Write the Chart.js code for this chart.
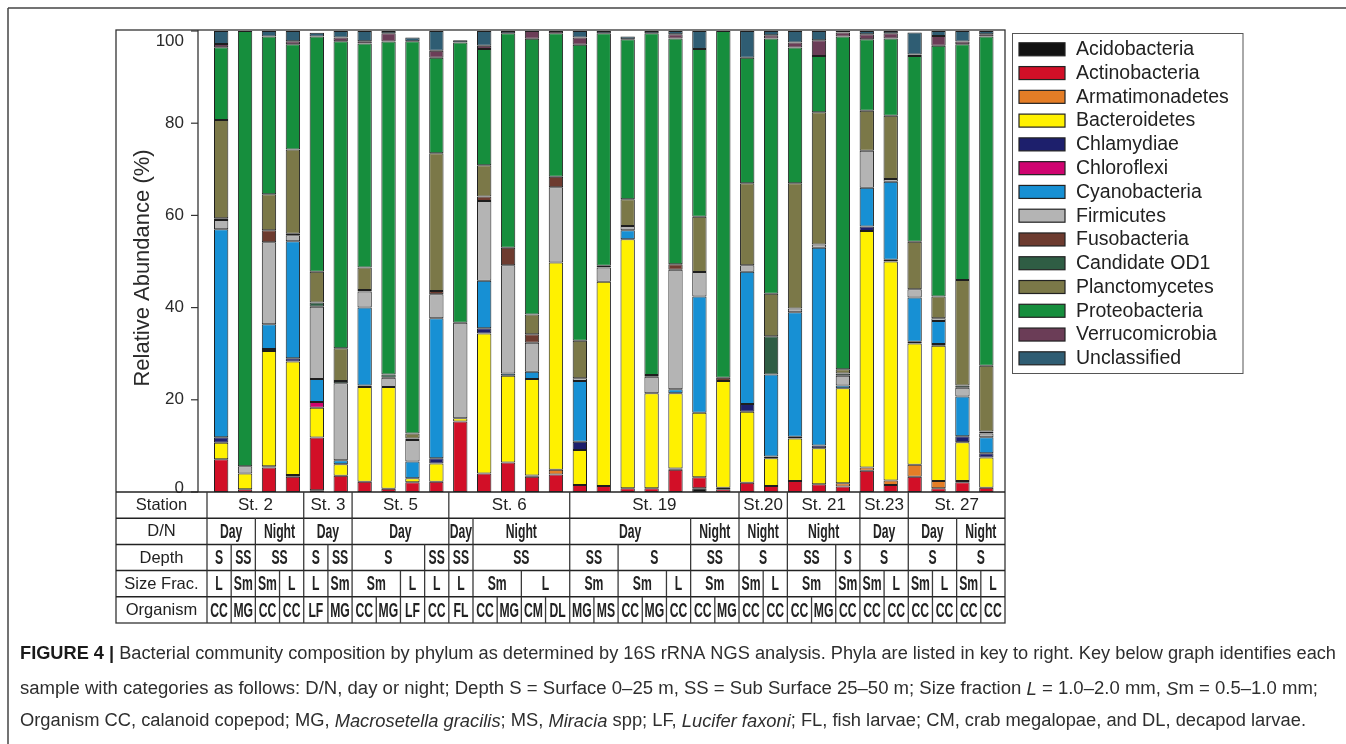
<!DOCTYPE html>
<html>
<head>
<meta charset="utf-8">
<title>Bacterial community composition by phylum</title>
<script src="https://cdn.jsdelivr.net/npm/chart.js@4.4.1/dist/chart.umd.min.js"></script>
<style>
  html, body { margin: 0; padding: 0; background: #fff; overflow: hidden; }
  canvas { display: block; }
</style>
</head>
<body>
<canvas id="chart" width="1346" height="744"></canvas>
<script>
// ---- Phyla (stacked bottom to top) ----
const phyla = ['Acidobacteria', 'Actinobacteria', 'Armatimonadetes', 'Bacteroidetes', 'Chlamydiae',
  'Chloroflexi', 'Cyanobacteria', 'Firmicutes', 'Fusobacteria', 'Candidate OD1',
  'Planctomycetes', 'Proteobacteria', 'Verrucomicrobia', 'Unclassified'];

// ---- Relative abundance (%) per sample, 33 samples ----
const acidobacteria   = [0, 0, 0, 0, 0.4, 0, 0, 0, 0, 0, 0, 0, 0, 0, 0, 0, 0, 0, 0, 0, 0.8, 0, 0, 0, 0, 0, 0, 0, 0, 0, 0, 0, 0];
const actinobacteria  = [7.1, 0.6, 5.3, 3.3, 11.4, 3.5, 2.2, 0.7, 2.1, 2.2, 15.3, 4.0, 6.4, 3.3, 3.8, 1.5, 1.3, 0.8, 0.8, 4.8, 2.4, 0.6, 2.0, 1.3, 2.4, 1.7, 1.2, 4.6, 1.5, 3.3, 0.8, 2.1, 0.9];
const armatimonadetes = [0, 0, 0.3, 0.4, 0, 0, 0, 0, 0, 0, 0, 0, 0, 0.3, 1.0, 0, 0, 0, 0, 0.3, 0, 0.3, 0, 0, 0, 0, 0.7, 0.7, 1.0, 2.6, 1.6, 0.3, 0];
const bacteroidetes   = [3.6, 3.4, 25.0, 24.6, 6.5, 2.5, 20.6, 22.1, 0.9, 4.0, 0.7, 30.4, 18.8, 20.9, 45.0, 7.6, 44.3, 54.0, 20.6, 16.3, 14.0, 23.2, 15.4, 6.0, 9.2, 7.8, 20.6, 51.3, 47.5, 26.3, 29.3, 8.4, 6.6];
const chlamydiae      = [1.2, 0, 0.4, 0.7, 0, 0, 0.3, 0, 0, 1.1, 0, 1.1, 0, 0, 0, 1.8, 0, 0, 0, 0, 0, 0, 1.7, 0.4, 0.4, 0.6, 0, 1.0, 0.4, 0.4, 0.4, 1.3, 0.9];
const chloroflexi     = [0, 0, 0, 0, 1.2, 0, 0, 0, 0, 0, 0, 0, 0, 0, 0, 0, 0, 0, 0, 0, 0, 0, 0, 0, 0, 0, 0, 0, 0, 0, 0, 0, 0];
const cyanobacteria   = [45.1, 0, 5.4, 25.4, 5.0, 0.9, 16.9, 0, 3.6, 30.4, 0, 10.3, 0.5, 1.6, 0, 13.2, 0, 2.0, 0, 0.9, 25.2, 0, 28.7, 17.8, 27.0, 42.9, 0.6, 8.4, 16.9, 9.6, 5.0, 8.6, 3.5];
const firmicutes      = [2.0, 1.6, 17.8, 1.3, 15.7, 16.7, 3.5, 2.0, 4.7, 5.2, 20.7, 17.3, 23.5, 6.3, 16.3, 0.6, 3.1, 0.9, 3.6, 25.9, 5.3, 0, 1.4, 0, 0.8, 0.7, 2.1, 8.0, 0.6, 1.8, 0.6, 1.9, 0.8];
const fusobacteria    = [0.4, 0, 2.6, 0.3, 0, 0, 0.3, 0, 0, 0.7, 0, 1.0, 3.8, 1.8, 2.3, 0, 0.4, 0, 0, 1.2, 0, 0.7, 0, 0, 0, 0, 0, 0, 0, 0, 0, 0, 0];
const candidateOD1    = [0, 0, 0, 0, 0.9, 0.5, 0, 0.7, 0.3, 0, 0, 0, 0, 0, 0, 0, 0, 0, 0.4, 0, 0, 0, 0, 8.3, 0, 0, 0.5, 0, 0, 0, 0, 0.5, 0.4];
const planctomycetes  = [21.3, 0, 7.8, 18.3, 6.7, 7.1, 4.9, 0, 1.1, 29.9, 0, 6.8, 0, 4.3, 0, 8.1, 0, 5.8, 0, 0, 12.0, 0, 17.8, 9.2, 27.2, 28.7, 0.9, 8.7, 13.7, 10.3, 4.7, 22.9, 14.3];
const proteobacteria  = [15.8, 94.4, 34.2, 22.8, 51.0, 66.6, 48.6, 72.2, 85.1, 20.7, 60.8, 25.2, 46.5, 59.8, 31.1, 64.2, 50.4, 34.7, 74.1, 49.0, 36.4, 75.2, 27.2, 55.4, 29.4, 12.2, 72.2, 15.5, 16.8, 40.3, 54.4, 51.1, 71.4];
const verrucomicrobia = [0.7, 0, 0, 0.7, 0, 0.8, 0.5, 1.8, 0, 1.5, 0, 0.7, 0, 1.7, 0.5, 1.6, 0, 0, 0, 0.9, 0, 0, 0, 0.7, 1.1, 3.4, 0.9, 1.1, 1.1, 0.3, 2.1, 0.6, 0.5];
const unclassified    = [2.8, 0, 1.2, 2.2, 0.8, 1.4, 2.2, 0.5, 0.8, 4.3, 0.5, 3.2, 0.5, 0, 0, 1.4, 0.5, 0.6, 0.5, 0.7, 3.9, 0, 5.8, 0.9, 2.5, 2.0, 0.3, 0.7, 0.5, 4.8, 1.1, 2.3, 0.7];

// ---- Sample key (label, number of samples spanned) ----
const organisms = ['CC', 'MG', 'CC', 'CC', 'LF', 'MG', 'CC', 'MG', 'LF', 'CC', 'FL', 'CC', 'MG', 'CM', 'DL',
  'MG', 'MS', 'CC', 'MG', 'CC', 'CC', 'MG', 'CC', 'CC', 'CC', 'MG', 'CC', 'CC', 'CC', 'CC', 'CC', 'CC', 'CC'];
const stations = [['St. 2', 4], ['St. 3', 2], ['St. 5', 4], ['St. 6', 5], ['St. 19', 7], ['St.20', 2], ['St. 21', 3], ['St.23', 2], ['St. 27', 4]];
const dayNight = [['Day', 2], ['Night', 2], ['Day', 2], ['Day', 4], ['Day', 1], ['Night', 4], ['Day', 5], ['Night', 2],
  ['Night', 2], ['Night', 3], ['Day', 2], ['Day', 2], ['Night', 2]];
const depths = [['S', 1], ['SS', 1], ['SS', 2], ['S', 1], ['SS', 1], ['S', 3], ['SS', 1], ['SS', 1], ['SS', 4],
  ['SS', 2], ['S', 3], ['SS', 2], ['S', 2], ['SS', 2], ['S', 1], ['S', 2], ['S', 2], ['S', 2]];
const sizeFractions = [['L', 1], ['Sm', 1], ['Sm', 1], ['L', 1], ['L', 1], ['Sm', 1], ['Sm', 2], ['L', 1], ['L', 1],
  ['L', 1], ['Sm', 2], ['L', 2], ['Sm', 2], ['Sm', 2], ['L', 1], ['Sm', 2], ['Sm', 1], ['L', 1], ['Sm', 2], ['Sm', 1],
  ['Sm', 1], ['L', 1], ['Sm', 1], ['L', 1], ['Sm', 1], ['L', 1]];
const rowHeaders = ['Station', 'D/N', 'Depth', 'Size Frac.', 'Organism'];
const yTicks = [0, 20, 40, 60, 80, 100];
const yTitle = 'Relative Abundance (%)';

const captionLines = [
  [['b', 'FIGURE 4 |'], ['r', ' Bacterial community composition by phylum as determined by 16S rRNA NGS analysis. Phyla are listed in key to right. Key below graph identifies each']],
  [['r', 'sample with categories as follows: D/N, day or night; Depth S = Surface 0\u201325 m, SS = Sub Surface 25\u201350 m; Size fraction '], ['i', 'L'], ['r', ' = 1.0\u20132.0 mm, '], ['i', 'S'], ['r', 'm = 0.5\u20131.0 mm;']],
  [['r', 'Organism CC, calanoid copepod; MG, '], ['i', 'Macrosetella gracilis'], ['r', '; MS, '], ['i', 'Miracia'], ['r', ' spp; LF, '], ['i', 'Lucifer faxoni'], ['r', '; FL, fish larvae; CM, crab megalopae, and DL, decapod larvae.']]
];

// ---- Styling ----
const phylumColors = ['#121212', '#d20f27', '#e47d26', '#fff100', '#1d1f6c', '#cf0470', '#1790d4', '#b4b4b4',
  '#6d3b2f', '#2f5d44', '#7b7848', '#168e3d', '#6b3d57', '#2f5d73'];
const seriesValues = [acidobacteria, actinobacteria, armatimonadetes, bacteroidetes, chlamydiae, chloroflexi,
  cyanobacteria, firmicutes, fusobacteria, candidateOD1, planctomycetes, proteobacteria, verrucomicrobia, unclassified];

const FRAME = { left: 116, top: 30, right: 1005, bottom: 623 };
const PLOT_LEFT = 198;
const HEADER_RIGHT = 207;
const LEGEND = { left: 1012.5, top: 33.5, right: 1243, bottom: 373.5, swX: 1019, swW: 46, swH: 13, textX: 1076, firstY: 49.3, step: 23.77 };
const SANS = 'Arial, "Liberation Sans", Helvetica, sans-serif';
const INK = '#222';
const CONDENSE = 0.58;   // horizontal squeeze for the compressed key labels

// Per-sample station names for category labels
const stationOfSample = stations.flatMap(([name, span]) => Array(span).fill(name));
const categories = organisms.map((o, i) => `${stationOfSample[i]} ${o} ${i + 1}`);

const datasets = phyla.map((name, k) => ({
  label: name,
  data: seriesValues[k].map(v => (v > 0 ? v : null)),
  backgroundColor: phylumColors[k],
  borderColor: '#1e1e1e',
  borderWidth: 1,
  borderSkipped: false
}));

function line(ctx, x1, y1, x2, y2) {
  ctx.beginPath(); ctx.moveTo(x1, y1); ctx.lineTo(x2, y2); ctx.stroke();
}
function text(ctx, s, x, y, font, align) {
  ctx.font = font; ctx.textAlign = align || 'center'; ctx.textBaseline = 'middle';
  ctx.fillText(s, x, y);
}
function condensedText(ctx, s, cx, cy) {
  ctx.save();
  ctx.translate(cx, cy);
  ctx.scale(CONDENSE, 1);
  text(ctx, s, 0, 0, 'bold 21px ' + SANS, 'center');
  ctx.restore();
}

const figureDecor = {
  id: 'figureDecor',
  afterDraw(chart) {
    const ctx = chart.ctx;
    const ys = chart.scales.y;
    const y0 = ys.getPixelForValue(0);
    const y100 = ys.getPixelForValue(100);
    ctx.save();
    ctx.fillStyle = INK;

    // Outer figure border
    ctx.strokeStyle = '#444'; ctx.lineWidth = 1.5;
    line(ctx, 8, 8, 8, 744); line(ctx, 8, 8, 1346, 8);

    // Panel box, plot frame and table frame
    ctx.strokeStyle = '#333'; ctx.lineWidth = 1.3;
    ctx.strokeRect(FRAME.left, FRAME.top, FRAME.right - FRAME.left, FRAME.bottom - FRAME.top);
    line(ctx, PLOT_LEFT, FRAME.top, PLOT_LEFT, y0);

    // Y axis ticks and labels
    ctx.strokeStyle = '#333'; ctx.lineWidth = 1.2;
    yTicks.forEach(v => {
      const py = ys.getPixelForValue(v);
      line(ctx, PLOT_LEFT - 7, py, PLOT_LEFT, py);
      const ly = Math.min(Math.max(py, y100 + 10.5), y0 - 4);
      ctx.fillStyle = '#2a2a2a';
      text(ctx, String(v), 184, ly, '17px ' + SANS, 'right');
    });
    ctx.save();
    ctx.translate(143, 268);
    ctx.rotate(-Math.PI / 2);
    ctx.fillStyle = '#2a2a2a';
    text(ctx, yTitle, 0, 0, '22px ' + SANS, 'center');
    ctx.restore();

    // Sample key table
    const rows = [stations, dayNight, depths, sizeFractions, organisms.map(o => [o, 1])];
    const rowH = (FRAME.bottom - y0) / rows.length;
    const colW = (FRAME.right - HEADER_RIGHT) / organisms.length;
    ctx.fillStyle = INK;
    rows.forEach((groups, r) => {
      const top = y0 + r * rowH;
      const cy = top + rowH / 2 + 0.5;
      ctx.strokeStyle = '#222'; ctx.lineWidth = 1.5;
      line(ctx, FRAME.left, top, FRAME.right, top);
      text(ctx, rowHeaders[r], (FRAME.left + HEADER_RIGHT) / 2, cy, '16.5px ' + SANS, 'center');
      let col = 0;
      groups.forEach(([label, span]) => {
        const x1 = HEADER_RIGHT + col * colW;
        const x2 = x1 + span * colW;
        ctx.strokeStyle = '#3a3a3a'; ctx.lineWidth = 1.3;
        line(ctx, x1, top, x1, top + rowH);
        if (r === 0) text(ctx, label, (x1 + x2) / 2, cy, '17px ' + SANS, 'center');
        else condensedText(ctx, label, (x1 + x2) / 2, cy + 0.5);
        col += span;
      });
    });

    // Legend
    ctx.strokeStyle = '#555'; ctx.lineWidth = 1;
    ctx.strokeRect(LEGEND.left, LEGEND.top, LEGEND.right - LEGEND.left, LEGEND.bottom - LEGEND.top);
    chart.data.datasets.forEach((ds, k) => {
      const cy = LEGEND.firstY + k * LEGEND.step;
      ctx.fillStyle = ds.backgroundColor;
      ctx.fillRect(LEGEND.swX, cy - LEGEND.swH / 2, LEGEND.swW, LEGEND.swH);
      ctx.strokeStyle = '#222'; ctx.lineWidth = 1.2;
      ctx.strokeRect(LEGEND.swX, cy - LEGEND.swH / 2, LEGEND.swW, LEGEND.swH);
      ctx.fillStyle = INK;
      text(ctx, ds.label, LEGEND.textX, cy + 0.5, '19.5px ' + SANS, 'left');
    });

    // Caption, each line fitted to its printed width
    const capX = 20;
    const capY = [654.5, 689.5, 721.5];
    const capW = [1316, 1298, 1286];
    const fontFor = kind => (kind === 'b' ? 'bold ' : kind === 'i' ? 'italic ' : '') + '18px ' + SANS;
    captionLines.forEach((runs, li) => {
      let total = 0;
      runs.forEach(([kind, s]) => { ctx.font = fontFor(kind); total += ctx.measureText(s).width; });
      ctx.save();
      ctx.translate(capX, capY[li]);
      ctx.scale(capW[li] / total, 1);
      let x = 0;
      runs.forEach(([kind, s]) => {
        ctx.fillStyle = kind === 'b' ? '#1a1a1a' : '#2e2e2e';
        text(ctx, s, x, 0, fontFor(kind), 'left');
        x += ctx.measureText(s).width;
      });
      ctx.restore();
    });

    ctx.restore();
  }
};

new Chart(document.getElementById('chart'), {
  type: 'bar',
  data: { labels: categories, datasets },
  options: {
    responsive: false,
    animation: false,
    devicePixelRatio: 1,
    layout: { padding: { left: 209.2, right: 347.7, top: 31, bottom: 252 } },
    datasets: { bar: { barPercentage: 1, categoryPercentage: 0.6 } },
    plugins: { legend: { display: false }, tooltip: { enabled: false } },
    scales: {
      x: { stacked: true, display: false },
      y: { stacked: true, display: false, min: 0, max: 100 }
    }
  },
  plugins: [figureDecor]
});
</script>
</body>
</html>
